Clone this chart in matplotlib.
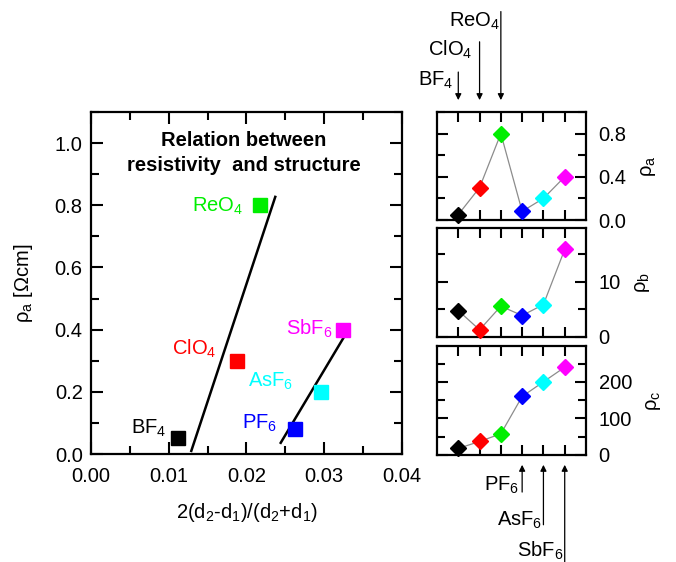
import matplotlib
matplotlib.use("Agg")
import matplotlib.pyplot as plt
from matplotlib.ticker import MultipleLocator, NullFormatter, FormatStrFormatter

plt.rcParams['font.family'] = ['Liberation Sans', 'DejaVu Sans']
plt.rcParams['mathtext.fontset'] = 'custom'
plt.rcParams['mathtext.rm'] = 'Liberation Sans'
plt.rcParams['mathtext.it'] = 'Liberation Sans'
plt.rcParams['mathtext.default'] = 'regular'

FS = 14.5

# anions, in order of the right-hand panels
anions = ['BF$_4$', 'ClO$_4$', 'ReO$_4$', 'PF$_6$', 'AsF$_6$', 'SbF$_6$']
colors = ['#000000', '#ff0000', '#00ee00', '#0000ff', '#00ffff', '#ff00ff']

# main panel: structural parameter vs rho_a
distortion = [0.0112, 0.0188, 0.0217, 0.0262, 0.0296, 0.0324]
rho_a = [0.05, 0.30, 0.80, 0.08, 0.20, 0.40]

# guide lines drawn in the original
line1_x = [0.0129, 0.0237]
line1_y = [0.01, 0.827]
line2_x = [0.0244, 0.0332]
line2_y = [0.036, 0.404]

# right panels
rho_b = [4.8, 1.3, 5.6, 3.9, 5.9, 15.9]
rho_c = [18, 37, 58, 160, 200, 240]

fig = plt.figure(figsize=(6.76, 5.62), dpi=100)
W, H = 676, 562


def px_axes(l, t, r, b):
    return fig.add_axes([l / W, 1 - b / H, (r - l) / W, (b - t) / H])


# ---- main panel ----
ax = px_axes(91, 112, 402, 454)
for x0, y0, c in zip(distortion, rho_a, colors):
    ax.plot(x0, y0, 's', color=c, ms=10, zorder=3)
ax.plot(line1_x, line1_y, '-', color='k', lw=1.8)
ax.plot(line2_x, line2_y, '-', color='k', lw=1.8)

label_pos = [(0.0097, 0.064), (0.0161, 0.318), (0.0195, 0.779),
             (0.0240, 0.080), (0.0260, 0.215), (0.0311, 0.383)]
for (tx, ty), name, c in zip(label_pos, anions, colors):
    ax.text(tx, ty, name, color=c, fontsize=FS, ha='right', va='baseline')

ax.text(0.49, 0.945, 'Relation between\nresistivity  and structure',
        transform=ax.transAxes, ha='center', va='top', fontsize=14.5,
        fontweight='bold', linespacing=1.42)

ax.set_xlim(0, 0.04)
ax.set_ylim(0, 1.1)
ax.xaxis.set_major_locator(MultipleLocator(0.01))
ax.xaxis.set_minor_locator(MultipleLocator(0.005))
ax.yaxis.set_major_locator(MultipleLocator(0.2))
ax.yaxis.set_minor_locator(MultipleLocator(0.1))
ax.xaxis.set_major_formatter(FormatStrFormatter('%.2f'))
ax.yaxis.set_major_formatter(FormatStrFormatter('%.1f'))
ax.tick_params(which='both', direction='in', top=True, right=True,
               width=1.5, labelsize=FS)
ax.tick_params(axis='x', pad=9)
ax.tick_params(axis='y', pad=6)
ax.tick_params(which='major', length=8.5)
ax.tick_params(which='minor', length=5.5)
for s in ax.spines.values():
    s.set_linewidth(1.6)
ax.set_xlabel('2(d$_2$-d$_1$)/(d$_2$+d$_1$)', fontsize=FS, labelpad=11)
ax.set_ylabel('ρ$_a$ [Ωcm]', fontsize=FS, labelpad=14)

# ---- right panels ----
panel_rows = [(112, 220), (228, 337), (346, 455)]
panel_data = [rho_a, rho_b, rho_c]
panel_labels = ['ρ$_a$', 'ρ$_b$', 'ρ$_c$']
panel_ylim = [(0, 1.0), (0, 19.8), (0, 298)]
panel_major = [0.4, 10, 100]
panel_minor = [0.2, 5, 50]
panel_fmt = ['%.1f', '%d', '%d']
xs = list(range(1, len(anions) + 1))

axes = []
for (top, bot), vals, lab, yl, mj, mn, fmt in zip(
        panel_rows, panel_data, panel_labels, panel_ylim,
        panel_major, panel_minor, panel_fmt):
    a = px_axes(437, top, 586, bot)
    a.plot(xs, vals, '-', color='#8c8c8c', lw=0.9, zorder=2)
    for xi, v, c in zip(xs, vals, colors):
        a.plot(xi, v, 'D', color=c, ms=8.3, mec=c, zorder=3, clip_on=False)
    a.set_xlim(0, 7)
    a.set_ylim(*yl)
    a.set_xticks(xs)
    a.xaxis.set_major_formatter(NullFormatter())
    a.yaxis.set_major_locator(MultipleLocator(mj))
    a.yaxis.set_minor_locator(MultipleLocator(mn))
    a.yaxis.set_major_formatter(FormatStrFormatter(fmt))
    a.yaxis.tick_right()
    a.yaxis.set_label_position('right')
    a.tick_params(which='both', direction='in', top=True, bottom=True,
                  left=True, right=True, width=1.5, labelsize=FS,
                  labelleft=False, labelright=True, pad=9)
    a.tick_params(axis='x', length=7)
    a.tick_params(axis='y', which='major', length=8)
    a.tick_params(axis='y', which='minor', length=6)
    for s in a.spines.values():
        s.set_linewidth(1.6)
    a.set_ylabel(lab, fontsize=FS, rotation=90, labelpad=9)
    axes.append(a)

# arrows pointing at the anion positions
arrow_kw = dict(arrowstyle='-|>', color='k', lw=0.9, mutation_scale=9,
                shrinkA=0, shrinkB=0)
top_ax = axes[0]
top_tails = [1.37, 1.65, 1.93]
for xi, tail in zip(xs[:3], top_tails):
    top_ax.annotate('', xy=(xi, 1.11), xycoords=('data', 'axes fraction'),
                    xytext=(xi, tail), textcoords=('data', 'axes fraction'),
                    arrowprops=arrow_kw, annotation_clip=False)
top_text = [(0.75, 1.24), (1.65, 1.52), (2.95, 1.79)]
for (tx, ty), name in zip(top_text, anions[:3]):
    top_ax.text(tx, ty, name, transform=top_ax.get_xaxis_transform(),
                fontsize=FS, ha='right', va='baseline')

bot_ax = axes[2]
bot_tails = [-0.34, -0.64, -1.0]
for xi, tail in zip(xs[3:], bot_tails):
    bot_ax.annotate('', xy=(xi, -0.09), xycoords=('data', 'axes fraction'),
                    xytext=(xi, tail), textcoords=('data', 'axes fraction'),
                    arrowprops=arrow_kw, annotation_clip=False)
bot_text = [(3.85, -0.33), (4.95, -0.65), (5.95, -0.93)]
for (tx, ty), name in zip(bot_text, anions[3:]):
    bot_ax.text(tx, ty, name, transform=bot_ax.get_xaxis_transform(),
                fontsize=FS, ha='right', va='baseline')

fig.savefig('out.png', dpi=100)
